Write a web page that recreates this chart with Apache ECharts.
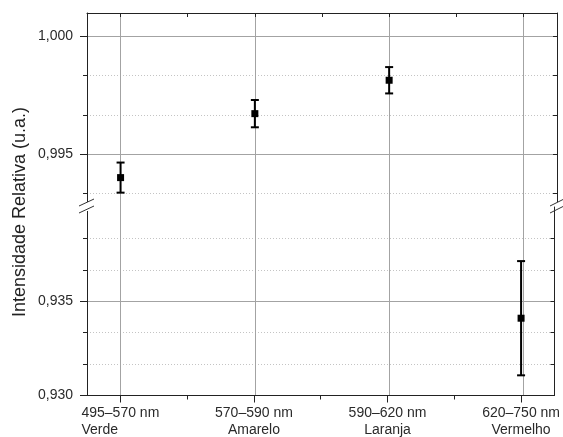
<!DOCTYPE html>
<html><head><meta charset="utf-8">
<script src="https://cdn.jsdelivr.net/npm/echarts@6/dist/echarts.min.js"></script>
<style>html,body{margin:0;padding:0;background:#fff}#c{width:563px;height:437px}</style>
</head><body><div id="c"></div>
<script>
// ---- data ----
const wavelengths = ['495–570 nm', '570–590 nm', '590–620 nm', '620–750 nm'];
const colourNames = ['Verde', 'Amarelo', 'Laranja', 'Vermelho'];
const intensity = [0.99400, 0.99672, 0.99814, 0.93410];
const errorBar = [0.00064, 0.00058, 0.00056, 0.00303];
const upperMajorTicks = [0.995, 1.000];
const upperMinorTicks = [0.993333, 0.996667, 0.998333];
const lowerMajorTicks = [0.930, 0.935];
const lowerMinorTicks = [0.931667, 0.933333, 0.936667, 0.938333];
const upperRange = [0.99275, 1.001];
const lowerRange = [0.930, 0.940];
const catPositions = [1, 2, 3, 4];
const halfPositions = [1.5, 2.5, 3.5];
const yTitle = 'Intensidade Relativa (u.a.)';

// ---- layout ----
const L = 87, R = 557, T = 13, MID = 207, B = 396, W = 563, H = 437;
const FONT = "'Liberation Sans', Arial, sans-serif";
const TXT = '#2a2a2a';
const MAJOR = '#a3a3a3', MINOR = '#c4c4c4', AX = '#222';

const upperData = [], lowerData = [];
intensity.forEach((v, i) => {
  const item = [catPositions[i], v, errorBar[i]];
  if (v >= lowerRange[1]) upperData.push(item); else lowerData.push(item);
});

function fmtY(v) { return v.toFixed(3).replace('.', ','); }

function renderErr(params, api) {
  const x = api.value(0), v = api.value(1), e = api.value(2);
  const t = api.coord([x, v + e]), b = api.coord([x, v - e]);
  const hw = 4, st = { stroke: '#000', lineWidth: 2 };
  return { type: 'group', children: [
    { type: 'line', shape: { x1: t[0], y1: t[1], x2: b[0], y2: b[1] }, style: st },
    { type: 'line', shape: { x1: t[0] - hw, y1: t[1], x2: t[0] + hw, y2: t[1] }, style: st },
    { type: 'line', shape: { x1: b[0] - hw, y1: b[1], x2: b[0] + hw, y2: b[1] }, style: st }
  ]};
}

const xBase = { type: 'value', min: 0.75, max: 4.25 };
const hidden = { show: false };

const option = {
  animation: false,
  backgroundColor: '#fff',
  grid: [
    { left: L, right: W - R, top: T, height: MID - T },
    { left: L, right: W - R, top: MID, height: B - MID },
    { left: L, right: W - R, top: T, height: B - T }
  ],
  xAxis: [
    Object.assign({}, xBase, { gridIndex: 0, position: 'bottom', axisLine: hidden,
      axisTick: hidden, axisLabel: hidden, splitLine: hidden }),
    Object.assign({}, xBase, { gridIndex: 0, position: 'top',
      axisLine: { show: true, lineStyle: { color: AX, width: 1 } },
      axisTick: { show: true, inside: true, length: 4, customValues: catPositions.concat(halfPositions), lineStyle: { color: AX } },
      axisLabel: hidden, splitLine: hidden }),
    Object.assign({}, xBase, { gridIndex: 1, position: 'bottom',
      axisLine: { show: true, lineStyle: { color: AX, width: 1 } },
      axisTick: { show: true, inside: false, length: 7, customValues: catPositions, lineStyle: { color: AX } },
      axisLabel: { show: true, customValues: catPositions, margin: 9,
        formatter: function (v) {
          const i = Math.round(v) - 1;
          return '{a|' + wavelengths[i] + '}\n{' + (i === 0 ? 'l' : 'c') + '|' + colourNames[i] + '}';
        },
        rich: {
          a: { fontFamily: FONT, fontSize: 14, color: TXT, lineHeight: 17, align: 'center' },
          c: { fontFamily: FONT, fontSize: 14, color: TXT, lineHeight: 17, align: 'center' },
          l: { fontFamily: FONT, fontSize: 14, color: TXT, lineHeight: 17, align: 'left' }
        } },
      splitLine: hidden }),
    Object.assign({}, xBase, { gridIndex: 1, position: 'bottom', axisLine: hidden,
      axisTick: { show: true, inside: false, length: 4, customValues: halfPositions, lineStyle: { color: AX } },
      axisLabel: hidden, splitLine: hidden }),
    Object.assign({}, xBase, { gridIndex: 2, position: 'bottom', axisLine: hidden,
      axisTick: { show: false, customValues: catPositions }, axisLabel: hidden,
      splitLine: { show: true, lineStyle: { color: MAJOR, width: 1 } } })
  ],
  yAxis: [
    { type: 'value', gridIndex: 0, position: 'left', min: upperRange[0], max: upperRange[1],
      axisLine: { show: true, lineStyle: { color: AX, width: 1 } },
      axisTick: { show: true, length: 7, customValues: upperMajorTicks, lineStyle: { color: AX } },
      axisLabel: { show: true, customValues: upperMajorTicks, margin: 14, formatter: fmtY,
        fontFamily: FONT, fontSize: 14, color: TXT },
      splitLine: { show: true, lineStyle: { color: MAJOR, width: 1 } } },
    { type: 'value', gridIndex: 0, position: 'left', min: upperRange[0], max: upperRange[1],
      axisLine: hidden,
      axisTick: { show: true, length: 4, customValues: upperMinorTicks, lineStyle: { color: AX } },
      axisLabel: hidden,
      splitLine: { show: true, lineStyle: { color: MINOR, width: 1, type: [1, 2] } } },
    { type: 'value', gridIndex: 0, position: 'right', min: upperRange[0], max: upperRange[1],
      axisLine: { show: true, lineStyle: { color: AX, width: 1 } },
      axisTick: { show: true, inside: true, length: 4, customValues: upperMajorTicks.concat(upperMinorTicks), lineStyle: { color: AX } },
      axisLabel: hidden, splitLine: hidden },
    { type: 'value', gridIndex: 1, position: 'left', min: lowerRange[0], max: lowerRange[1],
      axisLine: { show: true, lineStyle: { color: AX, width: 1 } },
      axisTick: { show: true, length: 7, customValues: lowerMajorTicks, lineStyle: { color: AX } },
      axisLabel: { show: true, customValues: lowerMajorTicks, margin: 14, formatter: fmtY,
        fontFamily: FONT, fontSize: 14, color: TXT },
      splitLine: { show: true, lineStyle: { color: MAJOR, width: 1 } } },
    { type: 'value', gridIndex: 1, position: 'left', min: lowerRange[0], max: lowerRange[1],
      axisLine: hidden,
      axisTick: { show: true, length: 4, customValues: lowerMinorTicks, lineStyle: { color: AX } },
      axisLabel: hidden,
      splitLine: { show: true, lineStyle: { color: MINOR, width: 1, type: [1, 2] } } },
    { type: 'value', gridIndex: 1, position: 'right', min: lowerRange[0], max: lowerRange[1],
      axisLine: { show: true, lineStyle: { color: AX, width: 1 } },
      axisTick: { show: true, inside: true, length: 4, customValues: lowerMajorTicks.concat(lowerMinorTicks), lineStyle: { color: AX } },
      axisLabel: hidden, splitLine: hidden },
    { type: 'value', gridIndex: 2, min: 0, max: 1, axisLine: hidden, axisTick: hidden,
      axisLabel: hidden, splitLine: hidden }
  ],
  series: [
    { type: 'custom', xAxisIndex: 0, yAxisIndex: 0, data: upperData, renderItem: renderErr, z: 5 },
    { type: 'custom', xAxisIndex: 2, yAxisIndex: 3, data: lowerData, renderItem: renderErr, z: 5 },
    { type: 'scatter', xAxisIndex: 0, yAxisIndex: 0, data: upperData.map(d => [d[0], d[1]]),
      symbol: 'rect', symbolSize: 7, itemStyle: { color: '#000', opacity: 1 }, z: 6 },
    { type: 'scatter', xAxisIndex: 2, yAxisIndex: 3, data: lowerData.map(d => [d[0], d[1]]),
      symbol: 'rect', symbolSize: 7, itemStyle: { color: '#000', opacity: 1 }, z: 6 }
  ],
  graphic: [
    { type: 'text', x: 20, y: 212, rotation: Math.PI / 2, z: 10,
      style: { text: yTitle, fontFamily: FONT, fontSize: 18, fill: '#222', align: 'center', verticalAlign: 'middle' } },
    { type: 'rect', shape: { x: L - 2, y: MID - 5, width: 4, height: 9 }, style: { fill: '#fff' }, z: 100 },
    { type: 'rect', shape: { x: R - 2, y: MID - 5, width: 4, height: 9 }, style: { fill: '#fff' }, z: 100 },
    { type: 'line', shape: { x1: L - 8, y1: MID - 1, x2: L + 7, y2: MID - 8 }, style: { stroke: '#333', lineWidth: 1 }, z: 101 },
    { type: 'line', shape: { x1: L - 8, y1: MID + 6, x2: L + 7, y2: MID - 1 }, style: { stroke: '#333', lineWidth: 1 }, z: 101 },
    { type: 'line', shape: { x1: R - 7, y1: MID - 1, x2: R + 7, y2: MID - 8 }, style: { stroke: '#333', lineWidth: 1 }, z: 101 },
    { type: 'line', shape: { x1: R - 7, y1: MID + 6, x2: R + 7, y2: MID - 1 }, style: { stroke: '#333', lineWidth: 1 }, z: 101 }
  ]
};

const chart = echarts.init(document.getElementById('c'), null, { renderer: 'canvas' });
chart.setOption(option);
</script>
</body></html>
